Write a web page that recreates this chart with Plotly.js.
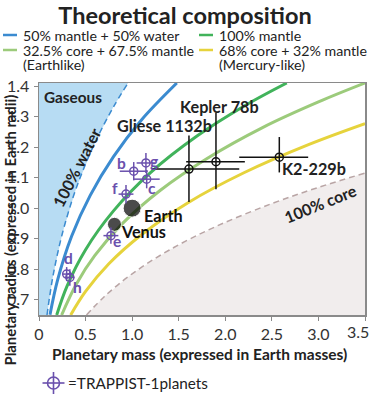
<!DOCTYPE html>
<html><head><meta charset="utf-8">
<script src="https://cdn.plot.ly/plotly-3.0.1.min.js"></script>
<style>html,body{margin:0;padding:0;background:#fff}#c{width:370px;height:394px}</style>
</head><body><div id="c"></div>
<script>
// ---- curves (mass in Earth masses, radius in Earth radii) ----
const waterM = [0.086, 0.15, 0.25, 0.4, 0.6, 0.8, 0.96];
const waterR = [0.65, 0.777, 0.916, 1.066, 1.214, 1.332, 1.412];
const halfWaterM = [0.118, 0.2, 0.35, 0.55, 0.8, 1.1, 1.48];
const halfWaterR = [0.651, 0.765, 0.908, 1.042, 1.169, 1.289, 1.41];
const mantleM = [0.19, 0.3, 0.5, 0.8, 1.2, 1.7, 2.2, 2.66];
const mantleR = [0.65, 0.744, 0.864, 0.991, 1.117, 1.237, 1.334, 1.41];
const earthlikeM = [0.243, 0.4, 0.6, 0.9, 1.3, 1.8, 2.4, 3.0, 3.5];
const earthlikeR = [0.65, 0.751, 0.845, 0.951, 1.058, 1.162, 1.264, 1.348, 1.41];
const mercuryM = [0.34, 0.5, 0.75, 1.1, 1.6, 2.2, 2.9, 3.5];
const mercuryR = [0.65, 0.727, 0.818, 0.913, 1.018, 1.116, 1.209, 1.277];
const coreM = [0.51, 0.7, 1.0, 1.4, 1.9, 2.5, 3.0, 3.5];
const coreR = [0.65, 0.710, 0.785, 0.863, 0.940, 1.015, 1.068, 1.115];

// ---- planets ----
const solarNames = ['Earth', 'Venus'];
const solarMass = [1.0, 0.81];
const solarRadius = [1.0, 0.947];

const otherNames = ['Gliese 1132b', 'Kepler 78b', 'K2-229b'];
const otherMass = [1.61, 1.90, 2.58];
const otherMassPlus = [0.54, 0.31, 0.31];
const otherMassMinus = [0.40, 0.32, 0.43];
const otherRadius = [1.128, 1.152, 1.167];
const otherRadPlus = [0.11, 0.16, 0.066];
const otherRadMinus = [0.108, 0.09, 0.05];

const trappistNames = ['b', 'c', 'd', 'e', 'f', 'g', 'h'];
const trappistMass = [1.017, 1.156, 0.297, 0.772, 0.934, 1.148, 0.331];
const trappistMassErr = [0.15, 0.14, 0.04, 0.08, 0.08, 0.10, 0.05];
const trappistRadius = [1.121, 1.095, 0.784, 0.910, 1.046, 1.148, 0.773];
const trappistRadErr = [0.03, 0.03, 0.023, 0.027, 0.03, 0.033, 0.027];

const xTicks = [0, 0.5, 1.0, 1.5, 2.0, 2.5, 3.0, 3.5];
const xTickText = ['0', '0.5', '1.0', '1.5', '2.0', '2.5', '3.0', '3.5'];
const yTicks = [0.7, 0.8, 0.9, 1.0, 1.1, 1.2, 1.3, 1.4];
const yTickText = ['0.7', '0.8', '0.9', '1.0', '1.1', '1.2', '1.3', '1.4'];

const legendLabels = ['50% mantle + 50% water', '100% mantle', '32.5% core + 67.5% mantle', '68% core + 32% mantle'];
const legendSub = ['', '', '(Earthlike)', '(Mercury-like)'];

// ---- styles ----
const BLUE = '#3b8bd0', GREEN = '#41b35b', LGREEN = '#9ccb7b', YELLOW = '#e6d33c';
const COREC = '#b9a5a5', COREFILL = '#f1eded', GASFILL = '#b7dcf3', PURPLE = '#6a50ad';
const FONT = 'Lato, "Open Sans", sans-serif';

const traces = [];
traces.push({x: [0].concat(waterM, [0]), y: [0.65].concat(waterR, [1.412]), mode: 'lines', fill: 'toself',
  fillcolor: GASFILL, line: {width: 0}, hoverinfo: 'skip', showlegend: false});
traces.push({x: coreM.concat([3.5]), y: coreR.concat([0.65]), mode: 'lines', fill: 'toself',
  fillcolor: COREFILL, line: {width: 0}, hoverinfo: 'skip', showlegend: false});
traces.push({x: waterM, y: waterR, mode: 'lines', line: {color: BLUE, width: 1.5, dash: '6px,4px', shape: 'spline'}, showlegend: false});
traces.push({x: coreM, y: coreR, mode: 'lines', line: {color: COREC, width: 1.5, dash: '6px,4px', shape: 'spline'}, showlegend: false});
traces.push({x: halfWaterM, y: halfWaterR, mode: 'lines', line: {color: BLUE, width: 3, shape: 'spline'}, showlegend: false});
traces.push({x: mantleM, y: mantleR, mode: 'lines', line: {color: GREEN, width: 3, shape: 'spline'}, showlegend: false});
traces.push({x: earthlikeM, y: earthlikeR, mode: 'lines', line: {color: LGREEN, width: 3, shape: 'spline'}, showlegend: false});
traces.push({x: mercuryM, y: mercuryR, mode: 'lines', line: {color: YELLOW, width: 3, shape: 'spline'}, showlegend: false});
traces.push({x: otherMass, y: otherRadius, mode: 'markers',
  marker: {symbol: 'circle-open', size: 8, color: '#111', line: {width: 1.5, color: '#111'}},
  error_x: {type: 'data', array: otherMassPlus, arrayminus: otherMassMinus, color: '#111', thickness: 1.5, width: 0},
  error_y: {type: 'data', array: otherRadPlus, arrayminus: otherRadMinus, color: '#111', thickness: 1.5, width: 0},
  showlegend: false});
traces.push({x: solarMass, y: solarRadius, mode: 'markers',
  marker: {size: [18, 14], color: '#000'}, showlegend: false});
traces.push({x: trappistMass, y: trappistRadius, mode: 'markers',
  marker: {symbol: 'circle-open', size: 8, color: PURPLE, line: {width: 1.5, color: PURPLE}},
  error_x: {type: 'data', array: trappistMassErr, color: PURPLE, thickness: 1.5, width: 0},
  error_y: {type: 'data', array: trappistRadErr, color: PURPLE, thickness: 1.5, width: 0},
  showlegend: false});

// ---- annotations ----
const L = 39, T = 83, W = 326, H = 232;
const px = v => (v - L) / W, py = v => (T + H - v) / H;
const ann = [];
function addText(text, x, y, size, opts) {
  ann.push(Object.assign({text: text, x: x, y: y, xref: 'paper', yref: 'paper', showarrow: false,
    font: {family: FONT, size: size, color: '#222'}, xanchor: 'center', yanchor: 'middle'}, opts || {}));
}
const boldFont = (s, c) => ({family: FONT, size: s, color: c || '#222', weight: 'bold'});
// planet labels (pixel positions of the label centres)
const otherLabelPos = [[164, 126], [219, 106], [314, 168]];
otherNames.forEach((n, i) => addText(n, px(otherLabelPos[i][0]), py(otherLabelPos[i][1]), 16.2, {font: boldFont(16.2)}));
const solarLabelPos = [[163, 215], [143, 232]];
solarNames.forEach((n, i) => addText(n, px(solarLabelPos[i][0]), py(solarLabelPos[i][1]), 16.2, {font: boldFont(16.2, '#111')}));
const trapShift = [[-12, 8], [5, -9], [2, 16], [6, -5], [-11, 6], [8, 2], [8, -10]];
trappistNames.forEach((n, i) => ann.push({text: n, x: trappistMass[i], y: trappistRadius[i], xref: 'x', yref: 'y', showarrow: false,
  xshift: trapShift[i][0], yshift: trapShift[i][1], font: boldFont(15.5, PURPLE)}));
// region labels
addText('Gaseous', px(73), py(97), 15.3, {font: boldFont(15.3)});
addText('100% water', px(76), py(167), 16, {textangle: -63, font: boldFont(16)});
addText('100% core', px(320), py(203), 16, {textangle: -22, font: boldFont(16)});
// axis titles
addText('Planetary mass (expressed in Earth masses)', px(50), py(354), 15.5, {xanchor: 'left', font: boldFont(15.5)});
addText('Planetary radius (expressed in Earth radii)', px(9), py(368), 14.8, {textangle: -90, yanchor: 'bottom', font: boldFont(14.8)});
// last x tick label, pulled inside the figure
addText('3.5', px(358), py(331), 16, {font: {family: FONT, size: 16, color: '#333'}});
// legend
const legColors = [BLUE, GREEN, LGREEN, YELLOW];
const legX = [3, 199, 3, 199], legY = [35, 35, 50, 50];
const shapes = [];
legendLabels.forEach((t, i) => {
  shapes.push({type: 'line', xref: 'paper', yref: 'paper', x0: px(legX[i]), x1: px(legX[i] + 14), y0: py(legY[i]), y1: py(legY[i]), line: {color: legColors[i], width: 2.5}});
  addText(t, px(legX[i] + 18), py(legY[i]), 14.2, {xanchor: 'left'});
  if (legendSub[i]) addText(legendSub[i], px(legX[i] + 18), py(legY[i] + 15), 14.2, {xanchor: 'left'});
});
// trappist key
const kx = px(53.5), ky = py(383);
shapes.push({type: 'circle', xref: 'paper', yref: 'paper', xsizemode: 'pixel', ysizemode: 'pixel', xanchor: kx, yanchor: ky,
  x0: -6, x1: 6, y0: -6, y1: 6, line: {color: PURPLE, width: 1.6}});
shapes.push({type: 'line', xref: 'paper', yref: 'paper', xsizemode: 'pixel', ysizemode: 'pixel', xanchor: kx, yanchor: ky,
  x0: -11, x1: 11, y0: 0, y1: 0, line: {color: PURPLE, width: 1.6}});
shapes.push({type: 'line', xref: 'paper', yref: 'paper', xsizemode: 'pixel', ysizemode: 'pixel', xanchor: kx, yanchor: ky,
  x0: 0, x1: 0, y0: -11, y1: 11, line: {color: PURPLE, width: 1.6}});
addText('=TRAPPIST-1planets', px(66), py(383), 15.3, {xanchor: 'left'});

const axisCommon = {showgrid: false, zeroline: false, showline: true, linecolor: '#8a8a8a', linewidth: 1.5, mirror: true,
  ticks: 'outside', ticklen: 4, tickwidth: 1, tickcolor: '#8a8a8a', ticklabeloverflow: 'allow',
  tickfont: {family: FONT, size: 16, color: '#333'}, fixedrange: true};

const layout = {
  width: 370, height: 394, margin: {l: L, r: 370 - L - W, t: T, b: 394 - T - H},
  paper_bgcolor: '#fff', plot_bgcolor: '#fff',
  title: {text: 'Theoretical composition', x: 0.5, xref: 'container', y: 1 - 16 / 394, yref: 'container', yanchor: 'middle',
    font: {family: FONT, size: 23.5, color: '#222', weight: 'bold'}},
  xaxis: Object.assign({}, axisCommon, {range: [0, 3.5], tickvals: xTicks, ticktext: xTickText.slice(0, -1).concat([''])}),
  yaxis: Object.assign({}, axisCommon, {range: [0.65, 1.41], tickvals: yTicks, ticktext: yTickText, ticklabelstandoff: 1}),
  annotations: ann, shapes: shapes, showlegend: false
};
Plotly.newPlot('c', traces, layout, {staticPlot: true, displayModeBar: false});
</script></body></html>
